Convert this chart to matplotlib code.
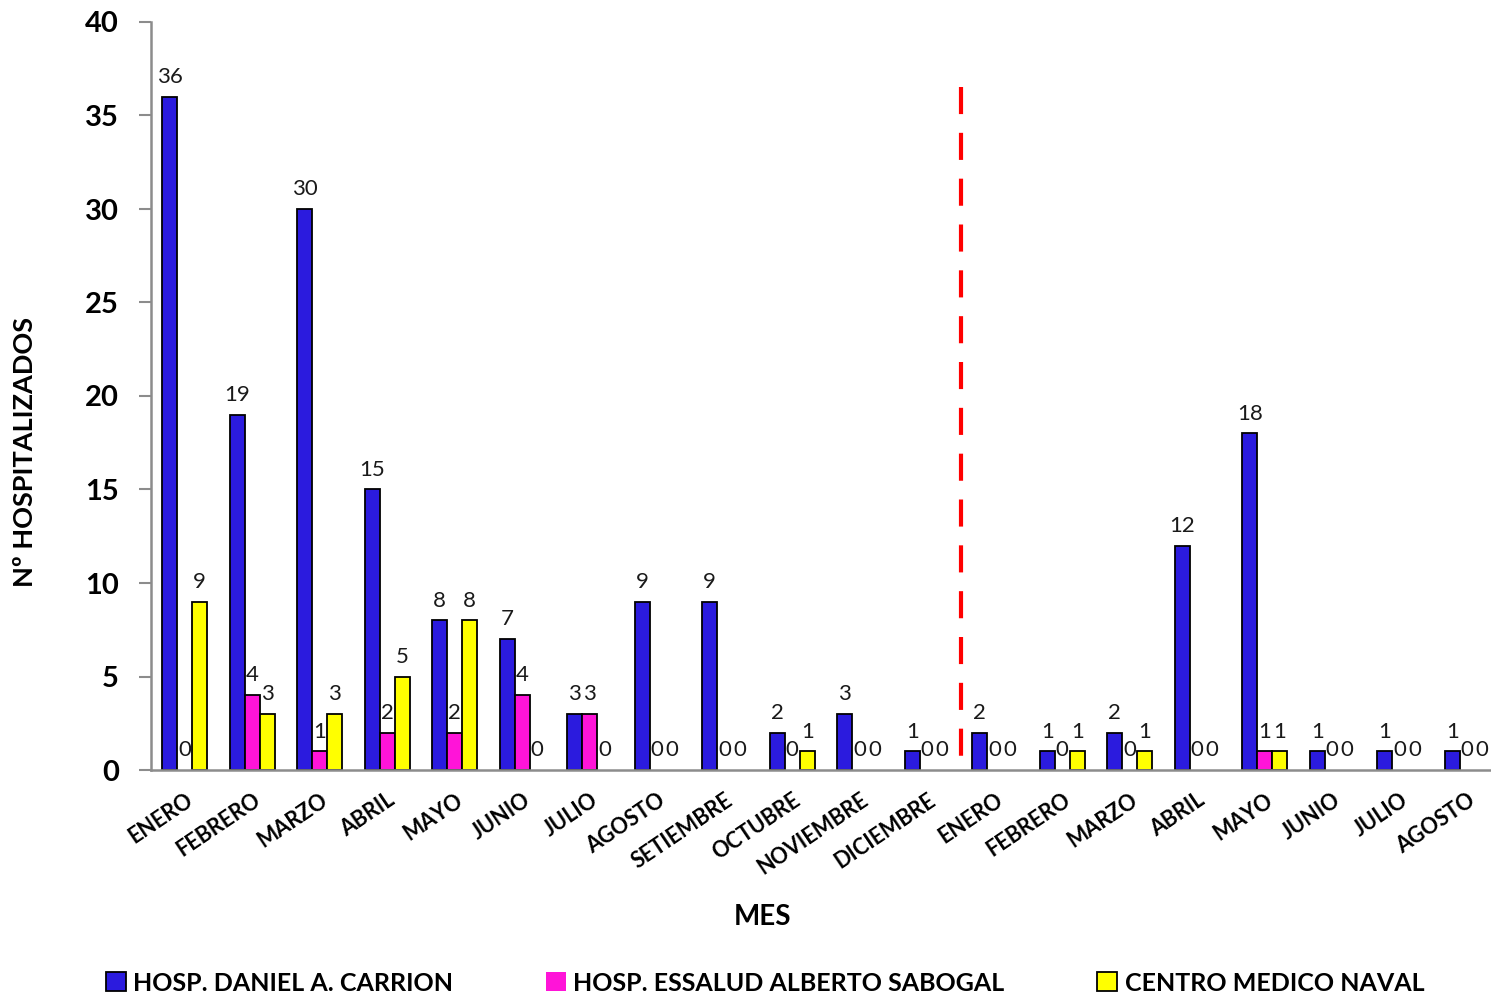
import numpy as np
import matplotlib
matplotlib.use("Agg")
import matplotlib.pyplot as plt

plt.rcParams['font.family'] = ['Lato', 'DejaVu Sans']

meses = ["ENERO", "FEBRERO", "MARZO", "ABRIL", "MAYO", "JUNIO", "JULIO", "AGOSTO",
         "SETIEMBRE", "OCTUBRE", "NOVIEMBRE", "DICIEMBRE",
         "ENERO", "FEBRERO", "MARZO", "ABRIL", "MAYO", "JUNIO", "JULIO", "AGOSTO"]
carrion = [36, 19, 30, 15, 8, 7, 3, 9, 9, 2, 3, 1, 2, 1, 2, 12, 18, 1, 1, 1]
sabogal = [0, 4, 1, 2, 2, 4, 3, 0, 0, 0, 0, 0, 0, 0, 0, 0, 1, 0, 0, 0]
naval = [9, 3, 3, 5, 8, 0, 0, 0, 0, 1, 0, 0, 0, 1, 1, 0, 1, 0, 0, 0]
series = ["HOSP. DANIEL A. CARRION", "HOSP. ESSALUD ALBERTO SABOGAL", "CENTRO MEDICO NAVAL"]
colores = ["#2B1BDE", "#FF14D8", "#FFFF00"]
corte = 11.5  # separa los dos anios

fig = plt.figure(figsize=(14.91, 9.96), dpi=100)
ax = fig.add_axes([151 / 1491, 226 / 996, 1350 / 1491, 748 / 996])

x = np.arange(len(meses))
w = 0.222
for k, (vals, nom, col) in enumerate(zip([carrion, sabogal, naval], series, colores)):
    pos = x + (k - 1) * w
    lws = [1.3 if v > 0 else 0 for v in vals]
    ax.bar(pos, vals, w, color=col, edgecolor="black", linewidth=lws, label=nom)
    for p, v in zip(pos, vals):
        ax.annotate(str(v), (p, v), xytext=(0, 7), textcoords="offset points",
                    ha="center", va="bottom", fontsize=16, color="#1a1a1a")

ax.plot([corte, corte], [36.5, 0], color="red", lw=3, dashes=(6.5, 4.5))

ax.set_xlim(-0.5, len(meses) - 0.5)
ax.set_ylim(0, 40)
ax.set_yticks(range(0, 41, 5))
ax.tick_params(axis="y", labelsize=21, length=9, width=1.5, color="#8c8c8c", pad=14)
for t in ax.get_yticklabels():
    t.set_fontweight("bold")
ax.set_xticks(x)
ax.set_xticklabels(meses, rotation=34, ha="right", va="top", rotation_mode="anchor",
                   fontsize=15.5, fontweight="bold")
ax.tick_params(axis="x", length=0, pad=14)
for s in ["top", "right"]:
    ax.spines[s].set_visible(False)
for s in ["left", "bottom"]:
    ax.spines[s].set_color("#8c8c8c")
    ax.spines[s].set_linewidth(1.8)

fig.text(762 / 1491, 1 - 917 / 996, "MES", ha="center", va="center", fontsize=20, fontweight="bold")
fig.text(25 / 1491, 1 - 452 / 996, "Nº HOSPITALIZADOS", ha="center", va="center", rotation=90,
         fontsize=19.5, fontweight="bold")

handles, labels = ax.get_legend_handles_labels()
fig.legend(handles, labels, loc="center", bbox_to_anchor=(765 / 1491, 1 - 983 / 996), ncol=3,
           frameon=False, prop={"weight": "bold", "size": 18},
           handlelength=0.8, handleheight=0.8, handletextpad=0.3, columnspacing=3.7)

fig.savefig("out.png", dpi=100)
